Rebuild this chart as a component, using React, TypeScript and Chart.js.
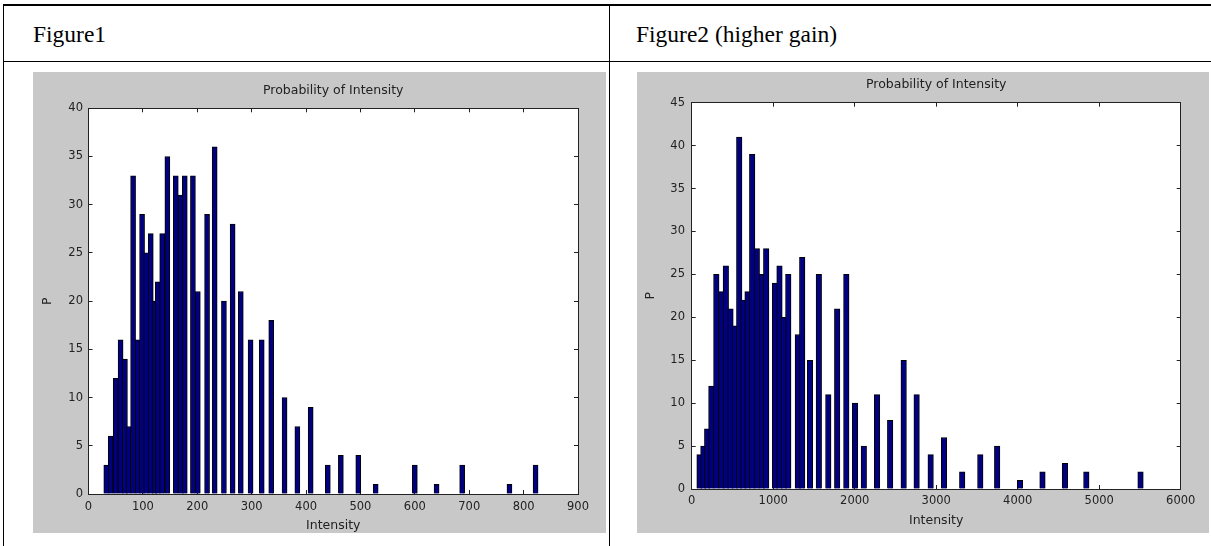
import React, { useEffect, useRef } from 'react';
import { Chart, registerables } from 'chart.js';

Chart.register(...registerables);

// ---- Figure 1 data ----
const intensity1 = [32.7, 40.9, 50, 59, 67, 73.5, 82, 90.5, 98.5, 106, 114.5, 121.5, 127.5, 135.5, 145, 160.5, 169.5, 177, 192, 201, 218, 232, 249, 265, 280, 298, 318.5, 336, 360.5, 384, 408.5, 440, 464, 496, 528, 600, 640, 687, 774, 822];
const count1 = [3, 6, 12, 16, 14, 7, 33, 16, 29, 25, 27, 20, 22, 27, 35, 33, 31, 33, 33, 21, 29, 36, 20, 28, 21, 16, 16, 18, 10, 7, 9, 3, 4, 4, 1, 3, 1, 3, 1, 3];
const xRange1 = [0, 900];
const xStep1 = 100;
const yRange1 = [0, 40];

// ---- Figure 2 data ----
const intensity2 = [96, 143, 190, 241, 302, 364, 419, 476, 527, 583, 634, 685, 742, 799, 859, 914, 1022, 1077, 1130, 1185, 1302, 1356, 1452, 1560, 1676, 1785, 1897, 2004, 2112, 2274, 2435, 2601, 2760, 2932, 3096, 3319, 3541, 3748, 4028, 4304, 4580, 4842, 5507];
const count2 = [4, 5, 7, 12, 25, 23, 26, 21, 19, 41, 22, 23, 39, 28, 25, 28, 24, 26, 20, 25, 18, 27, 15, 25, 11, 21, 25, 10, 5, 11, 8, 15, 11, 4, 6, 2, 4, 5, 1, 2, 3, 2, 2];
const xRange2 = [0, 6000];
const xStep2 = 1000;
const yRange2 = [0, 45];

const yStep = 5;
const headers = ['Figure1', 'Figure2 (higher gain)'];
const chartTitle = 'Probability of Intensity';
const xLabel = 'Intensity';
const yLabel = 'P';

const FONT = 'DejaVu Sans';
const TEXT = '#222';
const AXIS = '#222';

const plotBg = {
  id: 'plotBg',
  beforeDraw(chart: any) {
    const { ctx, chartArea: a } = chart;
    ctx.save();
    ctx.fillStyle = '#ffffff';
    ctx.fillRect(a.left, a.top, a.right - a.left, a.bottom - a.top);
    ctx.restore();
  },
};

type Layout = {
  yAxisW: number;
  xAxisH: number;
  rightPad: number;
  titleTop: number;
  titleBottom: number;
  xTickPad: number;
  xTitlePad: number;
  yTickPad: number;
  yTitlePad: number;
  barW: number;
};

function makeConfig(xs: number[], ys: number[], xr: number[], xs_step: number, yr: number[], L: Layout): any {
  const data = xs.map((x, i) => ({ x, y: ys[i] }));
  const tickFont = { family: FONT, size: 11.5 };
  const plain = (v: any) => String(v);
  const common = {
    grid: { drawOnChartArea: false, tickLength: -4, color: AXIS, offset: false },
    border: { display: true, color: AXIS, width: 1, z: 1 },
  };
  return {
    type: 'bar',
    data: {
      datasets: [
        {
          data,
          backgroundColor: '#000080',
          borderColor: '#000000',
          borderWidth: 1,
          barThickness: L.barW,
        },
      ],
    },
    options: {
      responsive: false,
      animation: false,
      layout: { padding: { left: 0, top: 0, bottom: 0, right: L.rightPad } },
      plugins: {
        legend: { display: false },
        tooltip: { enabled: false },
        title: {
          display: true,
          text: chartTitle,
          fullSize: false,
          color: TEXT,
          font: { family: FONT, size: 12.5, weight: 'normal' },
          padding: { top: L.titleTop, bottom: L.titleBottom },
        },
      },
      scales: {
        x: {
          type: 'linear',
          position: 'bottom',
          min: xr[0],
          max: xr[1],
          offset: false,
          ...common,
          ticks: { stepSize: xs_step, color: TEXT, font: tickFont, padding: L.xTickPad, maxRotation: 0, autoSkip: false, callback: plain },
          title: { display: true, text: xLabel, color: TEXT, font: { family: FONT, size: 12.5 }, padding: L.xTitlePad },
          afterFit: (s: any) => { s.height = L.xAxisH; },
        },
        x2: {
          type: 'linear',
          position: 'top',
          min: xr[0],
          max: xr[1],
          offset: false,
          ...common,
          ticks: { stepSize: xs_step, display: false },
          afterFit: (s: any) => { s.height = 0; },
        },
        y: {
          type: 'linear',
          position: 'left',
          min: yr[0],
          max: yr[1],
          ...common,
          ticks: { stepSize: yStep, color: TEXT, font: tickFont, padding: L.yTickPad, callback: plain },
          title: { display: true, text: yLabel, color: TEXT, font: { family: FONT, size: 12.5 }, padding: L.yTitlePad },
          afterFit: (s: any) => { s.width = L.yAxisW; },
        },
        y2: {
          type: 'linear',
          position: 'right',
          min: yr[0],
          max: yr[1],
          ...common,
          ticks: { stepSize: yStep, display: false },
          afterFit: (s: any) => { s.width = 0; },
        },
      },
    },
    plugins: [plotBg],
  };
}

function Hist(props: { cfg: any; w: number; h: number; left: number; top: number }) {
  const ref = useRef<HTMLCanvasElement>(null);
  useEffect(() => {
    if (!ref.current) return;
    const c = new Chart(ref.current, props.cfg);
    return () => c.destroy();
  }, []);
  return (
    <canvas
      ref={ref}
      width={props.w}
      height={props.h}
      style={{ position: 'absolute', left: props.left, top: props.top, width: props.w, height: props.h, background: '#c8c8c8', display: 'block' }}
    />
  );
}

const layout1: Layout = { yAxisW: 55.5, xAxisH: 39, rightPad: 28, titleTop: 11, titleBottom: 10.3, xTickPad: 10.3, xTitlePad: 0, yTickPad: 9.5, yTitlePad: 7.3, barW: 5 };
const layout2: Layout = { yAxisW: 54.7, xAxisH: 44, rightPad: 28.3, titleTop: 5, titleBottom: 10.7, xTickPad: 8.8, xTitlePad: 4.5, yTickPad: 10.7, yTitlePad: 6, barW: 5.5 };

export default function App() {
  const cfg1 = makeConfig(intensity1, count1, xRange1, xStep1, yRange1, layout1);
  const cfg2 = makeConfig(intensity2, count2, xRange2, xStep2, yRange2, layout2);
  const line = (s: React.CSSProperties) => <div style={{ position: 'absolute', background: '#000', ...s }} />;
  const headerStyle: React.CSSProperties = {
    position: 'absolute',
    top: 23,
    fontFamily: '"Liberation Serif", serif',
    fontSize: 23.5,
    lineHeight: '23.5px',
    color: '#000',
    whiteSpace: 'nowrap',
  };
  return (
    <div style={{ position: 'relative', width: 1211, height: 546, overflow: 'hidden', background: '#fff' }}>
      <style>{`body{margin:0;}`}</style>
      {line({ left: 3, top: 4, width: 1208, height: 2 })}
      {line({ left: 3, top: 4, width: 1, height: 542 })}
      {line({ left: 609, top: 4, width: 1, height: 542 })}
      {line({ left: 3, top: 61, width: 1208, height: 1 })}
      <div style={{ ...headerStyle, left: 33 }}>{headers[0]}</div>
      <div style={{ ...headerStyle, left: 636 }}>{headers[1]}</div>
      <Hist cfg={cfg1} w={573} h={461} left={33} top={72} />
      <Hist cfg={cfg2} w={572} h={461} left={637} top={72} />
    </div>
  );
}
